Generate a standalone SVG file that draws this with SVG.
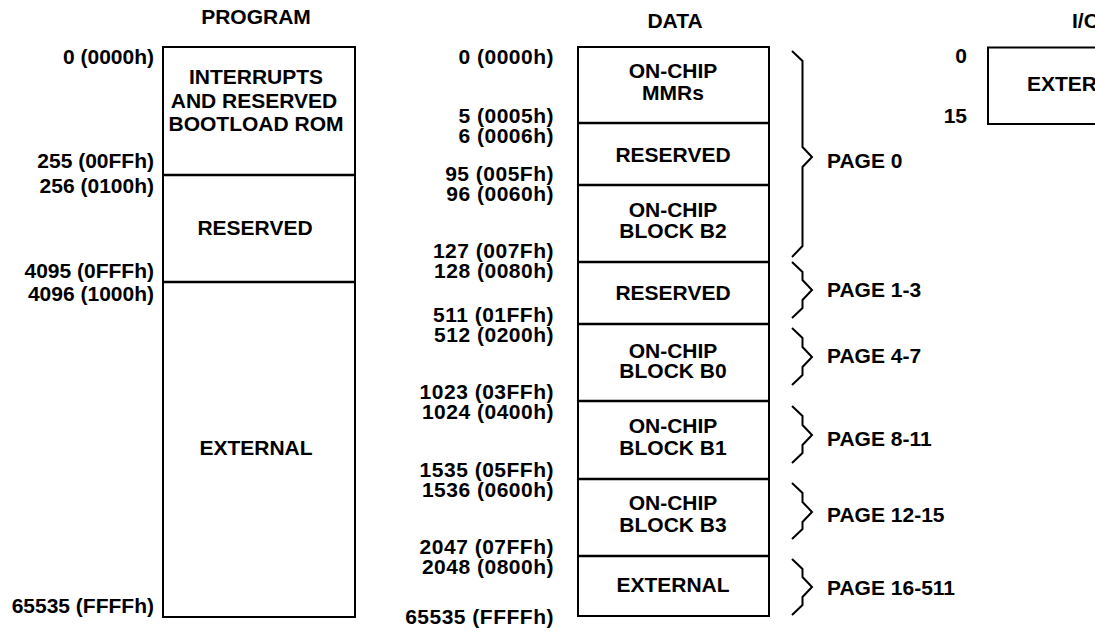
<svg xmlns="http://www.w3.org/2000/svg" width="1095" height="631" viewBox="0 0 1095 631">
<style>
text { font-family: "Liberation Sans", Arial, Helvetica, sans-serif; font-weight: bold; font-size: 21px; fill: #000; }
.c { text-anchor: middle; }
.r { text-anchor: end; }
.lbl { font-size: 20px; }
.dlbl { font-size: 20px; letter-spacing: 0.5px; }
.box { fill: #fff; stroke: #000; stroke-width: 2; }
.div { stroke: #000; stroke-width: 2.4; }
.brace { fill: none; stroke: #000; stroke-width: 2; stroke-linejoin: miter; }
</style>
<rect width="1095" height="631" fill="#fff"/>

<!-- PROGRAM space -->
<g id="program">
  <text class="c" x="256" y="24">PROGRAM</text>
  <rect class="box" x="163" y="47" width="192" height="570"/>
  <line class="div" x1="163" y1="175" x2="355" y2="175"/>
  <line class="div" x1="163" y1="282" x2="355" y2="282"/>
</g>
<g id="prog-interrupts">
  <text class="c" x="256" y="84">INTERRUPTS</text>
  <text class="c" x="254" y="107.5">AND RESERVED</text>
  <text class="c" x="256" y="131">BOOTLOAD ROM</text>
</g>
<g id="prog-reserved"><text class="c" x="255" y="235">RESERVED</text></g>
<g id="prog-external"><text class="c" x="256" y="455">EXTERNAL</text></g>
<g id="prog-addresses" class="lbl">
  <text class="r" x="154" y="64">0 (0000h)</text>
  <text class="r" x="154" y="168">255 (00FFh)</text>
  <text class="r" x="154" y="193">256 (0100h)</text>
  <text class="r" x="154" y="278">4095 (0FFFh)</text>
  <text class="r" x="154" y="301">4096 (1000h)</text>
  <text class="r" x="154" y="613">65535 (FFFFh)</text>
</g>

<!-- DATA space -->
<g id="data">
  <text class="c" x="675" y="27.5">DATA</text>
  <rect class="box" x="578" y="47" width="191" height="569"/>
  <line class="div" x1="578" y1="123" x2="769" y2="123"/>
  <line class="div" x1="578" y1="185" x2="769" y2="185"/>
  <line class="div" x1="578" y1="262" x2="769" y2="262"/>
  <line class="div" x1="578" y1="324" x2="769" y2="324"/>
  <line class="div" x1="578" y1="401" x2="769" y2="401"/>
  <line class="div" x1="578" y1="479" x2="769" y2="479"/>
  <line class="div" x1="578" y1="556" x2="769" y2="556"/>
</g>
<g id="data-mmrs"><text class="c" x="673" y="78">ON-CHIP</text><text class="c" x="673" y="100">MMRs</text></g>
<g id="data-reserved0"><text class="c" x="673" y="162">RESERVED</text></g>
<g id="data-b2"><text class="c" x="673" y="217">ON-CHIP</text><text class="c" x="673" y="238">BLOCK B2</text></g>
<g id="data-reserved1"><text class="c" x="673" y="300">RESERVED</text></g>
<g id="data-b0"><text class="c" x="673" y="358">ON-CHIP</text><text class="c" x="673" y="378">BLOCK B0</text></g>
<g id="data-b1"><text class="c" x="673" y="433">ON-CHIP</text><text class="c" x="673" y="455">BLOCK B1</text></g>
<g id="data-b3"><text class="c" x="673" y="510">ON-CHIP</text><text class="c" x="673" y="532">BLOCK B3</text></g>
<g id="data-external"><text class="c" x="673" y="592">EXTERNAL</text></g>
<g id="data-addresses" class="dlbl">
  <text class="r" x="554" y="64">0 (0000h)</text>
  <text class="r" x="554" y="122.5">5 (0005h)</text>
  <text class="r" x="554" y="142.5">6 (0006h)</text>
  <text class="r" x="554" y="181">95 (005Fh)</text>
  <text class="r" x="554" y="201">96 (0060h)</text>
  <text class="r" x="554" y="258">127 (007Fh)</text>
  <text class="r" x="554" y="278">128 (0080h)</text>
  <text class="r" x="554" y="322">511 (01FFh)</text>
  <text class="r" x="554" y="342">512 (0200h)</text>
  <text class="r" x="554" y="399">1023 (03FFh)</text>
  <text class="r" x="554" y="419">1024 (0400h)</text>
  <text class="r" x="554" y="477">1535 (05FFh)</text>
  <text class="r" x="554" y="497">1536 (0600h)</text>
  <text class="r" x="554" y="554">2047 (07FFh)</text>
  <text class="r" x="554" y="574">2048 (0800h)</text>
  <text class="r" x="554" y="624">65535 (FFFFh)</text>
</g>

<!-- page braces -->
<g id="connectors">
  <path class="brace" d="M792,51 L802.5,61 V147 L812,157 L802.5,167 V246 L792,257"/>
  <path class="brace" d="M792,262 L802.5,272 V280 L812,290 L802.5,300 V308 L792,318"/>
  <path class="brace" d="M792,328 L802.5,338 V347 L812,357 L802.5,367 V375 L792,385"/>
  <path class="brace" d="M792,406 L802.5,416 V425 L812,435 L802.5,445 V453 L792,463"/>
  <path class="brace" d="M792,483 L802.5,493 V502 L812,512 L802.5,522 V529 L792,539"/>
  <path class="brace" d="M792,559 L802.5,569 V577 L812,587 L802.5,597 V605 L792,615"/>
</g>
<g id="pages">
  <text x="827" y="168">PAGE 0</text>
  <text x="827" y="297">PAGE 1-3</text>
  <text x="827" y="363">PAGE 4-7</text>
  <text x="827" y="446">PAGE 8-11</text>
  <text x="827" y="522">PAGE 12-15</text>
  <text x="827" y="595">PAGE 16-511</text>
</g>

<!-- I/O space -->
<g id="io">
  <text x="1072" y="28">I/O</text>
  <rect class="box" x="988" y="47.5" width="220" height="76.5"/>
  <text x="1027" y="91">EXTERNAL</text>
  <text class="r" x="967" y="63">0</text>
  <text class="r" x="967" y="123">15</text>
</g>
</svg>
